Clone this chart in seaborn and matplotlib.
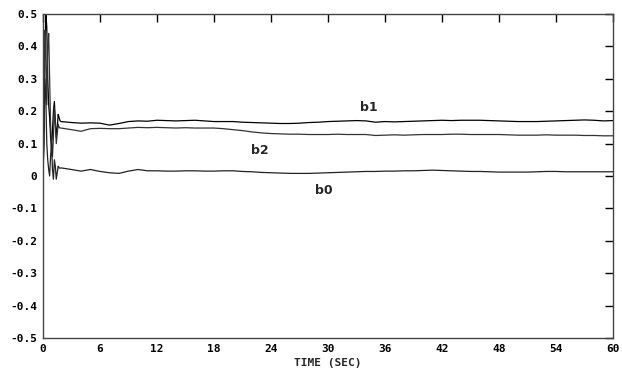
import numpy as np
import pandas as pd
import seaborn as sns
import matplotlib
matplotlib.use("Agg")
import matplotlib.pyplot as plt
from matplotlib.ticker import MultipleLocator

# start-up transient (first ~2 s)
t_start = [0.0, 0.1, 0.2, 0.3, 0.4, 0.5, 0.6, 0.7, 0.8, 0.9, 1.0, 1.1, 1.2, 1.3, 1.4, 1.5, 1.6, 1.7, 1.8, 1.9]
b1_start = [0.0, 0.10, 0.36, 0.50, 0.46, 0.30, 0.22, 0.18, 0.12, 0.08, 0.14, 0.20, 0.23, 0.17, 0.12, 0.15, 0.19, 0.18, 0.17, 0.168]
b2_start = [0.0, 0.20, 0.45, 0.38, 0.22, 0.40, 0.44, 0.30, 0.16, 0.10, 0.06, 0.12, 0.21, 0.16, 0.10, 0.13, 0.16, 0.15, 0.148, 0.148]
b0_start = [0.0, 0.12, 0.30, 0.24, 0.10, 0.05, 0.02, 0.00, 0.06, 0.10, 0.02, -0.01, 0.05, 0.03, -0.01, 0.01, 0.03, 0.025, 0.024, 0.025]

# slow part, every second from 2 to 60
t_main = list(range(2, 61))
b1_main = [0.167, 0.165, 0.163, 0.164, 0.163, 0.157, 0.162, 0.168, 0.170, 0.169,
           0.172, 0.171, 0.170, 0.171, 0.172, 0.170, 0.168, 0.168, 0.168, 0.166,
           0.165, 0.164, 0.163, 0.162, 0.162, 0.163, 0.165, 0.166, 0.168, 0.169,
           0.170, 0.171, 0.170, 0.166, 0.168, 0.167, 0.168, 0.169, 0.170, 0.171,
           0.172, 0.171, 0.172, 0.172, 0.172, 0.171, 0.170, 0.169, 0.168, 0.168,
           0.168, 0.169, 0.170, 0.171, 0.172, 0.173, 0.172, 0.170, 0.171]
b2_main = [0.148, 0.143, 0.138, 0.146, 0.147, 0.146, 0.146, 0.148, 0.150, 0.149,
           0.150, 0.149, 0.148, 0.149, 0.148, 0.148, 0.148, 0.146, 0.143, 0.140,
           0.136, 0.133, 0.131, 0.130, 0.129, 0.129, 0.128, 0.128, 0.128, 0.129,
           0.128, 0.128, 0.128, 0.125, 0.126, 0.127, 0.126, 0.127, 0.128, 0.128,
           0.128, 0.129, 0.129, 0.128, 0.128, 0.128, 0.128, 0.127, 0.126, 0.126,
           0.126, 0.127, 0.126, 0.126, 0.126, 0.125, 0.125, 0.124, 0.124]
b0_main = [0.025, 0.020, 0.015, 0.020, 0.014, 0.010, 0.008, 0.015, 0.020, 0.016,
           0.016, 0.015, 0.015, 0.016, 0.016, 0.015, 0.015, 0.016, 0.016, 0.014,
           0.013, 0.011, 0.010, 0.009, 0.008, 0.008, 0.008, 0.009, 0.010, 0.011,
           0.012, 0.013, 0.014, 0.014, 0.015, 0.015, 0.016, 0.016, 0.017, 0.018,
           0.017, 0.016, 0.015, 0.014, 0.014, 0.013, 0.012, 0.012, 0.012, 0.012,
           0.013, 0.014, 0.014, 0.013, 0.013, 0.013, 0.013, 0.013, 0.013]

t = t_start + t_main[1:]
rows = []
for name, s, m in [("b1", b1_start, b1_main), ("b2", b2_start, b2_main), ("b0", b0_start, b0_main)]:
    for ti, v in zip(t, s + m[1:]):
        rows.append((ti, v, name))
df = pd.DataFrame(rows, columns=["time", "value", "coef"])

sns.set_style("white")
plt.rcParams["font.family"] = ["DejaVu Sans Mono"]

fig = plt.figure(figsize=(6.22, 3.74), dpi=100)
ax = fig.add_axes([0.0691, 0.0963, 0.9164, 0.8663])

sns.lineplot(data=df, x="time", y="value", hue="coef", estimator=None,
             palette={"b1": "black", "b2": "#333333", "b0": "#222222"},
             linewidth=0.9, legend=False, ax=ax)

ax.set_xlim(0, 60)
ax.set_ylim(-0.5, 0.5)
ax.xaxis.set_major_locator(MultipleLocator(6))
yt = np.round(np.arange(-0.5, 0.51, 0.1), 1)
ax.set_yticks(yt)
ax.set_yticklabels(["0" if v == 0 else f"{v:.1f}" for v in yt])
ax.tick_params(direction="in", length=6, width=1, top=True, right=True,
               labelsize=8, pad=4, colors="black")
for lab in ax.get_xticklabels() + ax.get_yticklabels():
    lab.set_fontweight("bold")
for sp in ax.spines.values():
    sp.set_color("#444444")
    sp.set_linewidth(1)

ax.set_xlabel("TIME (SEC)", fontsize=8, fontweight="bold", labelpad=3)
ax.set_ylabel("")

ax.text(33.4, 0.2, "b1", fontsize=9, fontweight="bold", family="DejaVu Sans")
ax.text(21.9, 0.068, "b2", fontsize=9, fontweight="bold", family="DejaVu Sans")
ax.text(28.6, -0.055, "b0", fontsize=9, fontweight="bold", family="DejaVu Sans")

fig.savefig("out.png", dpi=100)
